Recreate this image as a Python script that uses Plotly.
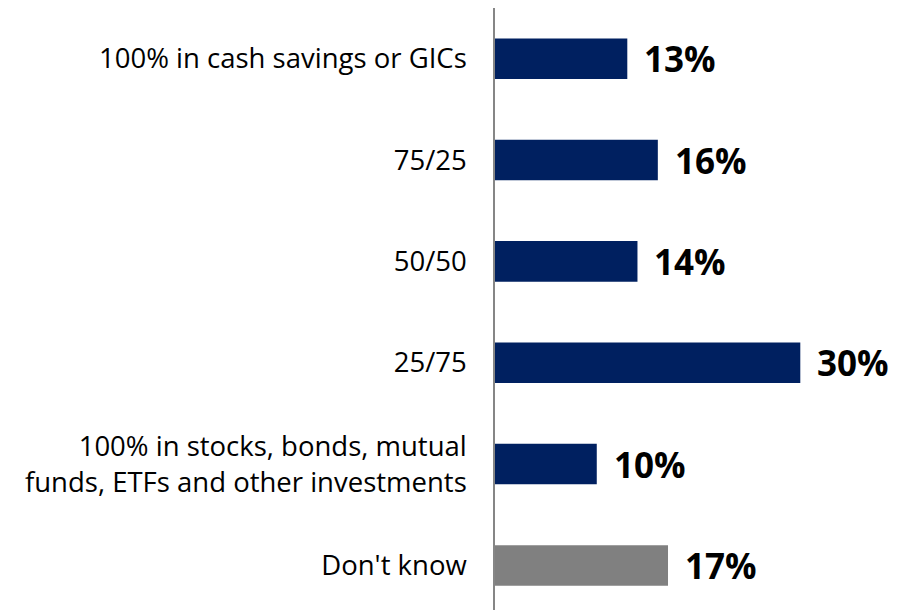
import plotly.graph_objects as go

categories = [
    "100% in cash savings or GICs",
    "75/25",
    "50/50",
    "25/75",
    "100% in stocks, bonds, mutual<br>funds, ETFs and other investments",
    "Don't know",
]
values = [13, 16, 14, 30, 10, 17]
bar_colors = ["#002060", "#002060", "#002060", "#002060", "#002060", "#808080"]

fig = go.Figure()
fig.add_trace(go.Bar(
    x=values,
    y=categories,
    orientation="h",
    width=0.4,
    marker=dict(color=bar_colors, line=dict(width=0)),
    hoverinfo="skip",
))

# value labels to the right of each bar
for cat, v in zip(categories, values):
    fig.add_annotation(
        x=v, y=cat, xref="x", yref="y",
        text=f"{v}%",
        showarrow=False,
        xanchor="left", yanchor="middle",
        xshift=15,
        font=dict(family="Open Sans", size=35, color="#000000", weight="bold"),
    )

# page body has an 8px margin, so the figure is a bit smaller than the window
fig.update_layout(
    width=890,
    height=604,
    margin=dict(l=487, r=0, t=0, b=2, autoexpand=False),
    plot_bgcolor="white",
    paper_bgcolor="white",
    showlegend=False,
    font=dict(family="Open Sans", size=27.5, color="#000000"),
    xaxis=dict(range=[0, 39.6], visible=False, fixedrange=True),
    yaxis=dict(
        range=[5.44, -0.5],
        automargin=False,
        showline=True,
        linecolor="#868686",
        linewidth=1.5,
        ticks="",
        ticklabelstandoff=21,
        showgrid=False,
        zeroline=False,
    ),
)

fig.write_html("out.html")
